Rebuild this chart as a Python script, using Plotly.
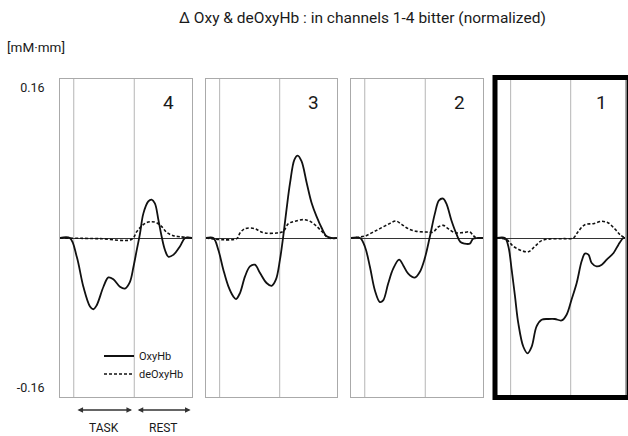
import plotly.graph_objects as go

# ---------------- data ----------------
channels = ["4", "3", "2", "1"]
y_ticks = [0.16, -0.16]
y_tick_text = ["0.16", "-0.16"]
task_start = 0
task_end = 22
rest_end = 42.5

t4_oxy = [-5, -1.4, 1.1, 3.5, 5.9, 7.1, 8.3, 10.8, 12.6, 14.4, 16.8, 18.6, 20.4, 21.7, 22.9, 24.1,
          25.3, 27.1, 28.3, 29.5, 30.8, 32.0, 33.2, 34.4, 36.2, 38.6, 40.5, 43]
v4_oxy = [0, 0, -0.020, -0.052, -0.073, -0.076, -0.072, -0.052, -0.042, -0.044, -0.052, -0.054,
          -0.047, -0.031, -0.013, 0.005, 0.026, 0.039, 0.041, 0.037, 0.019, 0.001, -0.013, -0.020,
          -0.018, -0.009, 0, 0]
t4_deoxy = [-5, 9.5, 21.1, 22.9, 24.7, 26.5, 28.3, 30.1, 32.0, 33.8, 36.2, 38.6, 43]
v4_deoxy = [0, -0.0007, -0.0014, 0.0068, 0.0128, 0.0164, 0.0174, 0.0164, 0.0121, 0.006, 0.0025,
            0.0014, 0]

t3_oxy = [-5, -2.3, -0.5, 1.35, 3.2, 5.0, 6.0, 7.45, 9.3, 11.1, 12.9, 14.8, 17.2, 19.05, 20.6,
          22.1, 23.3, 24.5, 25.8, 27.4, 28.6, 30.0, 31.9, 33.7, 35.5, 37.4, 39.2, 41, 43]
v3_oxy = [0, 0, -0.0125, -0.0338, -0.0516, -0.0623, -0.0651, -0.0587, -0.041, -0.0303, -0.0285,
          -0.0374, -0.048, -0.051, -0.0445, -0.0231, 0.0018, 0.0303, 0.0587, 0.0837, 0.0879,
          0.0819, 0.0587, 0.0374, 0.0231, 0.0107, 0.0018, 0, 0]
t3_deoxy = [-5, 6.2, 7.45, 9.3, 12.9, 14.8, 16.6, 20.9, 23.3, 25.2, 27.6, 30.7, 33.1, 35.5, 38.0,
            39.8, 43]
v3_deoxy = [0, -0.0007, 0.0053, 0.010, 0.010, 0.0071, 0.0053, 0.0053, 0.0071, 0.0153, 0.0178,
            0.0196, 0.0178, 0.0125, 0.0053, 0, 0]

t2_oxy = [-5, -1.7, 0.1, 1.9, 3.7, 5.5, 6.7, 8.5, 10.35, 12.5, 14.0, 15.8, 18.2, 20.0, 21.8,
          23.65, 25.5, 27.0, 28.5, 29.7, 31.5, 33.3, 34.8, 36.3, 38.2, 39.4, 41.2, 43]
v2_oxy = [0, 0, -0.0096, -0.031, -0.056, -0.0683, -0.0665, -0.0488, -0.0327, -0.0231, -0.0292,
          -0.038, -0.0423, -0.0363, -0.022, 0.0011, 0.026, 0.0402, 0.042, 0.0366, 0.0189, 0.0046,
          -0.0043, -0.006, -0.006, -0.0007, 0, 0]
t2_deoxy = [-5, -1.7, 0.7, 3.1, 5.5, 8.5, 11.3, 13.4, 15.8, 18.8, 22.4, 24.9, 26.7, 28.5, 30.3,
            32.7, 35.7, 38.2, 39.4, 40.6, 43]
v2_deoxy = [0, 0.001, 0.0028, 0.0064, 0.010, 0.0146, 0.0181, 0.0146, 0.010, 0.0071, 0.0064,
            0.0064, 0.0117, 0.0135, 0.010, 0.0057, 0.0057, 0.0064, 0.0028, 0, 0]

t1_oxy = [-5, -2.1, -0.85, 0.37, 1.6, 2.8, 4.65, 6.2, 7.7, 9.5, 11.35, 13.8, 16.2, 18.7, 20.5,
          22.3, 24.2, 26.0, 27.2, 28.5, 29.7, 31.5, 33.4, 35.2, 37.7, 39.5, 41.3, 42]
v1_oxy = [0, 0, -0.0089, -0.0338, -0.0623, -0.0908, -0.116, -0.123, -0.116, -0.0943, -0.0872,
          -0.0864, -0.0864, -0.0879, -0.0818, -0.0658, -0.048, -0.0249, -0.0167, -0.0178,
          -0.0267, -0.0303, -0.0285, -0.0231, -0.016, -0.0071, 0, 0]
t1_deoxy = [-5, -1.5, 1.0, 4.0, 6.5, 8.9, 11.35, 14.4, 19.3, 22.9, 24.8, 27.2, 30.3, 33.4, 35.8,
            38.2, 40.1, 41.9]
v1_deoxy = [0, -0.0018, -0.0089, -0.0135, -0.0146, -0.0089, -0.0028, -0.001, -0.0007, 0, 0.0071,
            0.0142, 0.0153, 0.0178, 0.016, 0.0096, 0.0036, 0]

# ---------------- layout helpers ----------------
W, H = 628, 436
FONT = "Roboto, Liberation Sans Narrow, sans-serif"
TXT = "#1a1a1a"

def px(x):
    return x / W

def py(y):
    return 1 - y / H

panel_px = [(60, 192), (206, 337), (351, 483), (497, 625)]
x_ranges = [[-5, 43], [-5, 43], [-5, 43], [-5, 41.9]]
y_range = [-0.1696, 0.1696]
y_dom = [py(397), py(79)]

series = [
    (t4_oxy, v4_oxy, t4_deoxy, v4_deoxy),
    (t3_oxy, v3_oxy, t3_deoxy, v3_deoxy),
    (t2_oxy, v2_oxy, t2_deoxy, v2_deoxy),
    (t1_oxy, v1_oxy, t1_deoxy, v1_deoxy),
]

fig = go.Figure()
shapes = []
annotations = []

for i, (ch, (to, vo, td, vd)) in enumerate(zip(channels, series)):
    n = "" if i == 0 else str(i + 1)
    xa, ya = "x" + n, "y" + n
    fig.add_trace(go.Scatter(x=to, y=vo, mode="lines", name="OxyHb", xaxis=xa, yaxis=ya,
                             line=dict(color="#111111", width=1.8, shape="spline", smoothing=1.0),
                             showlegend=(i == 0), legend="legend"))
    fig.add_trace(go.Scatter(x=td, y=vd, mode="lines", name="deOxyHb", xaxis=xa, yaxis=ya,
                             line=dict(color="#111111", width=1.6, shape="spline", smoothing=1.0,
                                       dash="3px,2px"),
                             showlegend=(i == 0), legend="legend2"))
    x0, x1 = panel_px[i]
    xkey = "xaxis" + n
    ykey = "yaxis" + n
    fig.layout[xkey] = dict(domain=[px(x0), px(x1)], range=x_ranges[i], anchor=ya,
                            showgrid=False, zeroline=False, showticklabels=False, ticks="",
                            showline=True, mirror=True, linecolor="#aaaaaa", linewidth=1)
    ycfg = dict(domain=y_dom, range=y_range, anchor=xa, showgrid=False,
                zeroline=True, zerolinecolor="#333333", zerolinewidth=1,
                ticks="", showline=True, mirror=True, linecolor="#aaaaaa", linewidth=1)
    if i == 0:
        ycfg.update(tickvals=y_ticks, ticktext=y_tick_text, showticklabels=True,
                    ticklabelstandoff=12, tickfont=dict(family=FONT, size=12.5, color=TXT))
    else:
        ycfg.update(showticklabels=False)
    fig.layout[ykey] = ycfg
    for tv in (task_start, task_end):
        shapes.append(dict(type="line", xref=xa, yref=ya + " domain", x0=tv, x1=tv, y0=0, y1=1,
                           line=dict(color="#b5b5b5", width=1), layer="below"))
    annotations.append(dict(text=ch, xref=xa + " domain", yref="paper", x=0.82, y=py(102),
                            showarrow=False, xanchor="center", yanchor="middle",
                            font=dict(family=FONT, size=19, color=TXT)))

# thick frame around channel 1
shapes.append(dict(type="rect", xref="paper", yref="paper", x0=px(495), x1=px(629),
                   y0=py(397.5), y1=py(77.5), line=dict(color="#000000", width=5)))

# title and unit
annotations.append(dict(text="\u0394 Oxy & deOxyHb : in channels 1-4 bitter (normalized)",
                        xref="paper", yref="paper", x=px(362), y=py(18), showarrow=False,
                        xanchor="center", yanchor="middle",
                        font=dict(family=FONT, size=15.5, color=TXT)))
annotations.append(dict(text="[mM\u00b7mm]", xref="paper", yref="paper", x=px(5), y=py(47),
                        showarrow=False, xanchor="left", yanchor="middle",
                        font=dict(family=FONT, size=13.5, color=TXT)))

# TASK / REST arrows under channel 4
for a, b, lab in ((task_start + 0.8, task_end - 0.8, "TASK"), (task_end + 0.7, rest_end, "REST")):
    annotations.append(dict(x=b, y=py(410), xref="x", yref="paper", ax=a, ay=0, axref="x",
                            ayref="pixel", showarrow=True, arrowhead=2, arrowside="end+start",
                            arrowsize=0.7, arrowwidth=1.6, arrowcolor="#333333", text=""))
    annotations.append(dict(text=lab, x=(a + b) / 2, y=py(428), xref="x", yref="paper",
                            showarrow=False, xanchor="center", yanchor="middle",
                            font=dict(family=FONT, size=12, color=TXT)))

leg_common = dict(xanchor="left", yanchor="middle", bgcolor="rgba(0,0,0,0)",
                  font=dict(family=FONT, size=11, color=TXT), itemwidth=30,
                  borderwidth=0)
fig.update_layout(
    width=W, height=H, margin=dict(l=0, r=0, t=0, b=0),
    paper_bgcolor="white", plot_bgcolor="white",
    shapes=shapes, annotations=annotations,
    legend=dict(x=px(99), y=py(356), **leg_common),
    legend2=dict(x=px(99), y=py(374), **leg_common),
)

fig.write_html("out.html")
